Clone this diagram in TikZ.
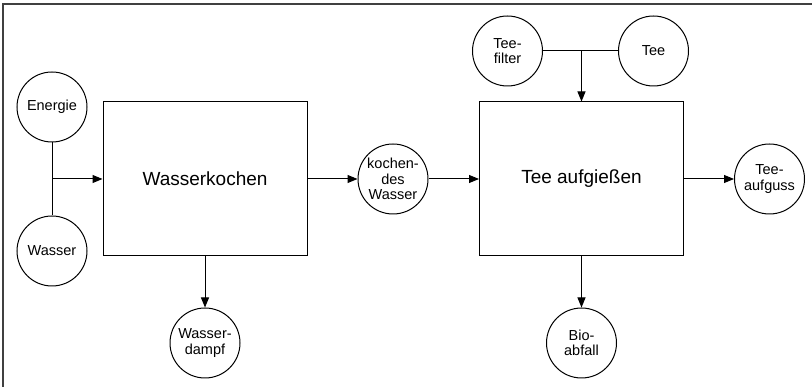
\documentclass[tikz,border=0pt]{standalone}
\usepackage{fontspec}
\setmainfont{Liberation Sans}
\usetikzlibrary{arrows.meta,positioning}

\begin{document}
\begin{tikzpicture}[x=1pt,y=-1pt,>={Triangle[length=10pt,width=8pt]},line width=1pt,
  main/.style={circle,draw,fill=white,minimum size=70pt,inner sep=0pt,align=center,
    font=\fontsize{14.5}{15.5}\selectfont},
  prozess/.style={rectangle,draw,fill=white,minimum width=204pt,minimum height=154pt,
    font=\fontsize{19}{21}\selectfont}]
  \useasboundingbox (0,0) rectangle (812,387);
  \draw[black!75,line width=1.5pt] (3,387) -- (3,4) -- (812,4);

  \node[prozess] (kochen) at (205,179) {Wasserkochen};
  \coordinate (j1) at (52,179);
  \node[main] (energie) [above of=j1,node distance=72pt] {Energie};
  \node[main] (wasser) [below of=j1,node distance=72pt] {Wasser};
  \node[main] (dampf) [below of=kochen,node distance=164pt] {Wasser-\\dampf};
  \node[main] (kw) [right of=kochen,node distance=188pt] {kochen-\\des\\Wasser};
  \node[prozess] (aufguss) [right of=kw,node distance=188.5pt] {Tee aufgießen};
  \node[main] (teeaufguss) [right of=aufguss,node distance=188pt] {Tee-\\aufguss};
  \node[main] (bio) [below of=aufguss,node distance=164pt] {Bio-\\abfall};
  \coordinate[above of=aufguss,node distance=128pt] (j2);
  \node[main] (filter) [left of=j2,node distance=74pt] {Tee-\\filter};
  \node[main] (tee) [right of=j2,node distance=72pt] {Tee};

  \draw (energie) -- (wasser);
  \draw[->] (j1) -- (kochen);
  \draw[->] (kochen) -- (dampf);
  \draw[->] (kochen) -- (kw);
  \draw[->] (kw) -- (aufguss);
  \draw (filter) -- (tee);
  \draw[->] (j2) -- (aufguss);
  \draw[->] (aufguss) -- (bio);
  \draw[->] (aufguss) -- (teeaufguss);
\end{tikzpicture}
\end{document}
